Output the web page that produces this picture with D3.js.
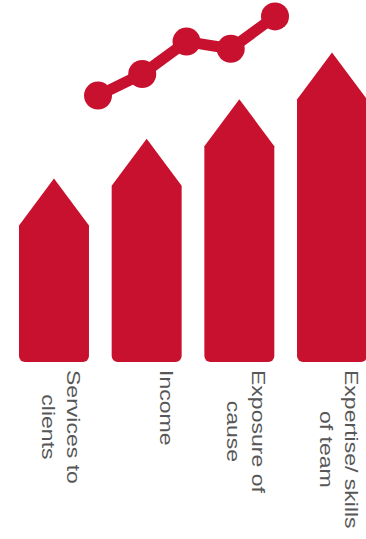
<!DOCTYPE html>
<html>
<head>
<meta charset="utf-8">
<script src="https://cdn.jsdelivr.net/npm/d3@7"></script>
<style>
  html, body { margin: 0; padding: 0; background: #ffffff; }
  svg { display: block; }
</style>
</head>
<body>
<svg id="chart" width="366" height="539"></svg>
<script>
// ---- data ----
const categories = ["Services to clients", "Income", "Exposure of cause", "Expertise/ skills of team"];
const labelLines = [["Services to", "clients"], ["Income"], ["Exposure of", "cause"], ["Expertise/ skills", "of team"]];
const barValues = [51, 62, 73, 86];
const linePoints = [0, 1, 2, 3, 4];
const lineValues = [74, 80, 89, 87, 96];

// ---- layout / style ----
const W = 366, H = 539;
const red = "#c8112e";
const textColor = "#575757";
const tipHeight = 47;
const cornerR = 6;

const svg = d3.select("#chart");

const y = d3.scaleLinear().domain([0, 100]).range([362, 2]);
const x = d3.scaleBand().domain(categories).range([19, 367]).paddingInner(0.245).paddingOuter(0);
const xl = d3.scalePoint().domain(linePoints).range([98, 275]);

// ---- arrow bars ----
function arrowPath(cat, v) {
  const x0 = x(cat), x1 = x0 + x.bandwidth(), cx = x0 + x.bandwidth() / 2;
  const yb = y(0), ya = y(v), ys = ya + tipHeight;
  const p = d3.path();
  p.moveTo(x0, ys);
  p.lineTo(cx, ya);
  p.lineTo(x1, ys);
  p.lineTo(x1, yb - cornerR);
  p.arcTo(x1, yb, x1 - cornerR, yb, cornerR);
  p.lineTo(x0 + cornerR, yb);
  p.arcTo(x0, yb, x0, yb - cornerR, cornerR);
  p.closePath();
  return p.toString();
}

svg.append("g").selectAll("path")
  .data(categories)
  .join("path")
  .attr("d", (c, i) => arrowPath(c, barValues[i]))
  .attr("fill", red);

// ---- line with dots ----
const line = d3.line().x(d => xl(d)).y((d, i) => y(lineValues[i]));
svg.append("path")
  .datum(linePoints)
  .attr("d", line)
  .attr("fill", "none")
  .attr("stroke", red)
  .attr("stroke-width", 11)
  .attr("stroke-linejoin", "round");

svg.append("g").selectAll("circle")
  .data(linePoints)
  .join("circle")
  .attr("cx", d => xl(d))
  .attr("cy", (d, i) => y(lineValues[i]))
  .attr("r", 14)
  .attr("fill", red);

// ---- rotated labels ----
const labelTop = 370, lineGap = 25, stretch = 1.28, baseOffset = 13;
categories.forEach((cat, i) => {
  const cx = x(cat) + x.bandwidth() / 2;
  const g = svg.append("g")
    .attr("transform", `translate(${cx + baseOffset},${labelTop}) rotate(90) scale(${stretch},1)`);
  const texts = g.selectAll("text")
    .data(labelLines[i])
    .join("text")
    .attr("y", (d, j) => j * lineGap)
    .attr("font-family", "'Liberation Sans', Arial, Helvetica, sans-serif")
    .attr("font-size", 18)
    .attr("fill", textColor)
    .attr("text-anchor", "middle")
    .text(d => d);
  let maxW = 0;
  texts.each(function () { maxW = Math.max(maxW, this.getComputedTextLength()); });
  texts.attr("x", maxW / 2);
});
</script>
</body>
</html>
